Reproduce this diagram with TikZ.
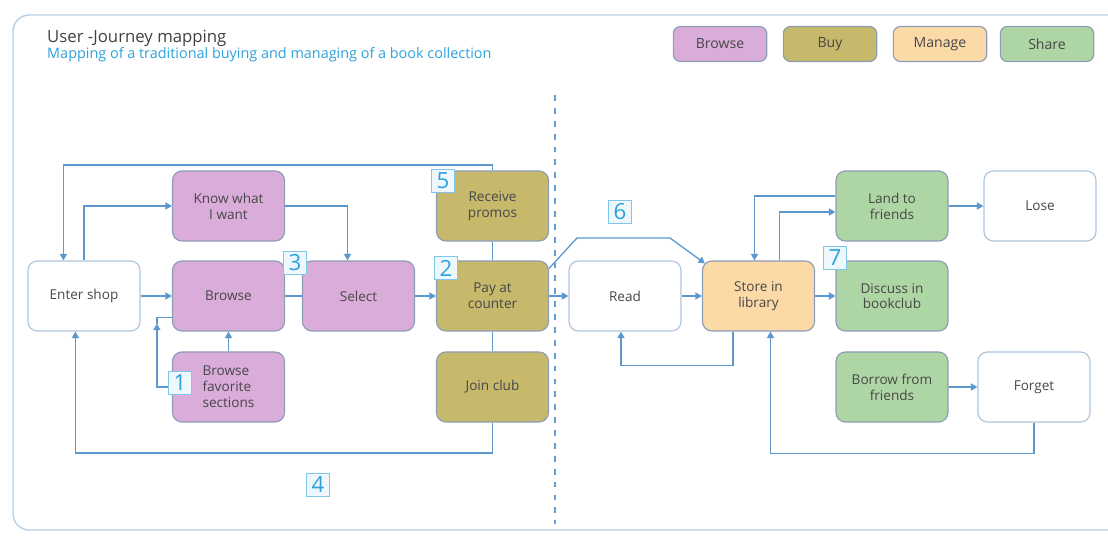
\documentclass[tikz,border=0pt]{standalone}
\usepackage{fontspec}
\setmainfont{Open Sans}
\usetikzlibrary{arrows.meta,calc}

\definecolor{browsefill}{HTML}{DAACDA}
\definecolor{buyfill}{HTML}{C6B96C}
\definecolor{managefill}{HTML}{FBDAA8}
\definecolor{sharefill}{HTML}{AED6A5}
\definecolor{edgegray}{HTML}{8E9DB6}
\definecolor{flowblue}{HTML}{3F86C6}
\definecolor{tagblue}{HTML}{2DA2DC}
\definecolor{frameblue}{HTML}{B7D0E6}

\tikzset{
  box/.style={draw=edgegray, line width=1pt, rounded corners=8pt, minimum width=3.36cm, minimum height=2.1cm, align=center, font=\fontsize{11.6}{13.5}\selectfont, text=black!72},
  plainbox/.style={box, draw=frameblue!80!edgegray, fill=white},
  browsebox/.style={box, fill=browsefill},
  buybox/.style={box, fill=buyfill},
  managebox/.style={box, fill=managefill},
  sharebox/.style={box, fill=sharefill},
  keybox/.style={box, minimum width=2.8cm, minimum height=1.05cm, rounded corners=6pt, font=\fontsize{12}{13}\selectfont},
  link/.style={draw=flowblue!85, line width=1.1pt},
  flow/.style={link, -{Triangle[length=5.5pt,width=6pt]}},
  tag/.style={draw=tagblue!60, fill=tagblue!8, line width=0.8pt, minimum size=0.68cm, inner sep=0pt, text=tagblue, font=\fontsize{19}{19}\selectfont}
}

\begin{document}
\begin{tikzpicture}[x=0.03cm, y=-0.03cm]
\useasboundingbox (0,0) rectangle (1108,536);

% frame and heading
\draw[frameblue, line width=1.2pt, rounded corners=14pt] (1130,15) -- (13,15) -- (13,530) -- (1130,530);
\node[anchor=base west, font=\fontsize{14.3}{15}\selectfont, text=black!75, inner sep=0pt] (title) at (47,43) {User -Journey mapping};
\node[anchor=base west, font=\fontsize{12.3}{13}\selectfont, text=tagblue, inner sep=0pt] (subtitle) at (47,59) {Mapping of a traditional buying and managing of a book collection};

% legend
\node[keybox, fill=browsefill] (kbrowse) at (720,44) {Browse};
\node[keybox, fill=buyfill] (kbuy) at (830,44) {Buy};
\node[keybox, fill=managefill] (kmanage) at (940,44) {Manage};
\node[keybox, fill=sharefill] (kshare) at (1047,44) {Share};

% buying part
\node[plainbox] (enter) at (84,296) {Enter shop};
\node[browsebox] (know) at (228.5,206) {Know what\\I want};
\node[browsebox] (browse) at (228.5,296) {Browse};
\node[browsebox, align=left] (favs) at (228.5,387) {Browse\\favorite\\sections};
\node[browsebox] (select) at (358.5,296) {Select};
\node[buybox] (promos) at (492.5,206) {Receive\\promos};
\node[buybox] (pay) at (492.5,296) {Pay at\\counter};
\node[buybox] (club) at (492.5,387) {Join club};

% managing part
\node[plainbox] (read) at (625,296) {Read};
\node[managebox] (store) at (758.5,296) {Store in\\library};
\node[sharebox] (lend) at (892,206) {Land to\\friends};
\node[plainbox] (lose) at (1040,206) {Lose};
\node[sharebox] (discuss) at (892,296) {Discuss in\\bookclub};
\node[sharebox] (borrow) at (892,387) {Borrow from\\friends};
\node[plainbox] (forget) at (1034,387) {Forget};

\draw[flowblue!80, line width=1pt, dash pattern=on 5pt off 6pt] (555,95) -- (555,524);

% flows in the shop
\draw[flow] (enter.north) |- (know.west);
\draw[flow] (enter) -- (browse);
\draw[flow] (favs) -- (browse);
\draw[flow] (favs.west) -| ($(browse.south west)+(-15,-8)$);
\draw[link] ($(browse.south west)+(-15,-8)$) |- ($(browse.south west)+(0,-14)$);
\draw[flow] (know.east) -| ($(select.north)+(-11,0)$);
\draw[link] (browse) -- (select);
\draw[flow] (select) -- (pay);
\draw[link] (promos) -- (pay) -- (club);
\draw[flow] (promos.north) -- (492.5,165) -| ($(enter.north west)+(36,0)$);
\draw[flow] (club.south) -- (492.5,453) -| ($(enter.south west)+(48,0)$);

% flows at home
\draw[flow] (pay) -- (read);
\draw[flow] ($(pay.north east)+(0,8)$) -- (577,238) -- (670,238) -- ($(store.north west)+(3,3)$);
\draw[flow] (read) -- (store);
\draw[flow] ($(store.south west)+(31,0)$) -- ++(0,34) -| ($(read.south)+(-4,0)$);
\draw[flow] ($(lend.west)+(0,-10)$) -| ($(store.north)+(-4,0)$);
\draw[flow] ($(store.north)+(21,0)$) |- ($(lend.west)+(0,6)$);
\draw[flow] (store) -- (discuss);
\draw[flow] (lend) -- (lose);
\draw[flow] (borrow) -- (forget);
\draw[flow] (forget.south) -- ++(0,31) -| ($(store.south)+(12,0)$);

% numbered remarks
\node[tag] (t1) at (180,383) {1};
\node[tag] (t2) at (446,268) {2};
\node[tag] (t3) at (295,263) {3};
\node[tag] (t4) at (318,485) {4};
\node[tag] (t5) at (443,181) {5};
\node[tag] (t6) at (620,212) {6};
\node[tag] (t7) at (835,258) {7};
\end{tikzpicture}
\end{document}
